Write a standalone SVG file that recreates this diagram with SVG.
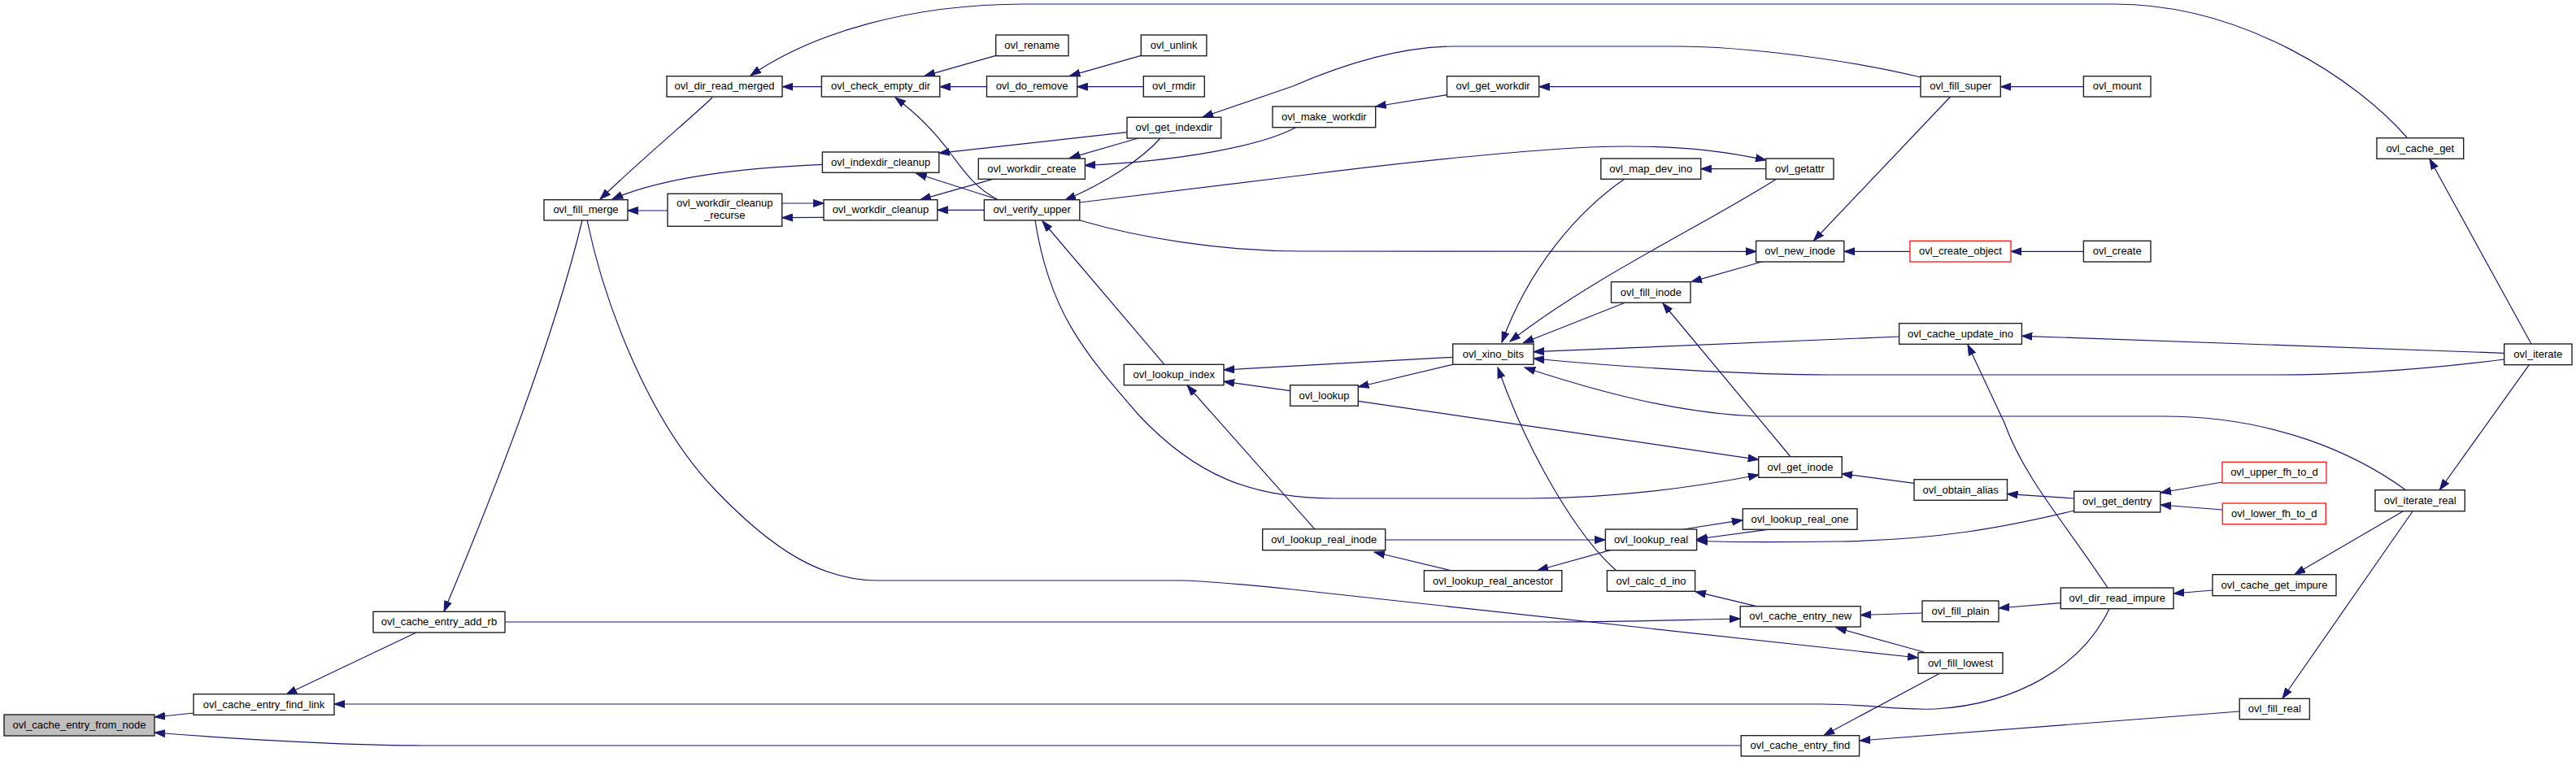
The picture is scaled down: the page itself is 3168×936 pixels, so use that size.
<svg xmlns="http://www.w3.org/2000/svg" width="3168" height="936" viewBox="0 0 3168 936">
<defs>
<style>
.n rect{fill:#fff;stroke:#222;stroke-width:1.4}
.n.r rect{stroke:#f22}
.n.root rect{fill:#bfbfbf}
.n text{font-family:"Liberation Sans",Arial,Helvetica,sans-serif;font-size:13px;text-anchor:middle;fill:#000}
.e path{fill:none;stroke:#191970;stroke-width:1.2;marker-end:url(#a)}
</style>
<marker id="a" markerUnits="userSpaceOnUse" markerWidth="14" markerHeight="10" refX="13" refY="5" orient="auto" viewBox="0 0 14 10">
<path d="M0,0.5 L13,5 L0,9.5 z" fill="#191970" stroke="#191970" stroke-width="1"/>
</marker>
</defs>
<rect width="3168" height="936" fill="#fff"/>
<g id="edges" class="e">
<path d="M238,877 L190,882"/>
<path d="M2141,917 L520,917 C440,917 300,910 190,901"/>
<path d="M512,778 L352,854"/>
<path d="M716,271 C680,420 610,600 546,752"/>
<path d="M2594,749 C2560,820 2480,866 2380,872 C2330,874 2300,866 2240,866 L411,866"/>
<path d="M722,271 C745,380 800,520 880,603 C950,676 1010,714 1080,714 L1453,714 C1480,714 1530,719 1590,725 L2359,809"/>
<path d="M621,765 L1900,765 C2000,765 2080,762 2140,761"/>
<path d="M2364,754 L2288,756.5"/>
<path d="M2366,802 L2258,772"/>
<path d="M2160,745.7 L2085,727.7"/>
<path d="M2386,828 L2243,904.5"/>
<path d="M2754,875 L2287,911"/>
<path d="M2967,629 L2807,859"/>
<path d="M2955,629 L2822,706.5"/>
<path d="M2721,726 L2673,730"/>
<path d="M2534,741.7 L2458,748"/>
<path d="M2733,593 L2657,606"/>
<path d="M2733,627 L2657,621"/>
<path d="M2551,613 L2468.5,607.7"/>
<path d="M2551,628 C2460,650 2380,664 2260,666 C2180,667 2120,667 2087,665"/>
<path d="M2354,594.3 L2265,582.7"/>
<path d="M2070,651 L2143,639.7"/>
<path d="M2174,651.3 L2087,663"/>
<path d="M1704,664 L1974.4,664"/>
<path d="M1784,701.7 L1690,679"/>
<path d="M1980.5,676.7 L1891,701.5"/>
<path d="M1988,702 C1940,660 1880,560 1842,452"/>
<path d="M1616.7,650.7 L1460,474"/>
<path d="M1786.7,439.3 L1505,455"/>
<path d="M1586.7,480.7 L1505,469.3"/>
<path d="M1786.7,448.3 L1670.3,476"/>
<path d="M1670.3,493.3 L2162.7,565.3"/>
<path d="M1273,271 C1290,380 1330,430 1400,510 C1470,585 1540,613 1640,613 L1880,613 C1980,613 2080,600 2163,584"/>
<path d="M1432,448.3 L1282,272"/>
<path d="M1228,246 C1200,232 1185,210 1170,190 C1150,162 1125,138 1101,120"/>
<path d="M1226,245 L1126.7,213.3"/>
<path d="M1210.4,258.3 L1152.8,258.3"/>
<path d="M1221,220.3 L1131.8,245.7"/>
<path d="M1013,267.3 L961.7,267.7"/>
<path d="M961.7,250 L1013.3,250"/>
<path d="M821,259 L771.7,259"/>
<path d="M1011.7,202.3 C900,207 810,220 753,245"/>
<path d="M876,120 C850,145 790,195 738,245"/>
<path d="M1010.4,106.7 L962.4,106.7"/>
<path d="M2960,169 C2900,100 2760,5 2600,5 L1260,5 C1120,5 1000,40 923,93"/>
<path d="M1224.7,68.3 L1137,93.3"/>
<path d="M1213.5,106.7 L1155.8,106.7"/>
<path d="M1403.3,68.3 L1315.5,93.3"/>
<path d="M1406.3,106.7 L1324.7,106.7"/>
<path d="M1386,162.7 L1154.8,188.3"/>
<path d="M1399.7,170 L1315.5,194.3"/>
<path d="M1427,170 C1405,195 1360,225 1310,246"/>
<path d="M2362,95 C2280,75 2150,57 2060,57 L1790,57 C1720,57 1650,80 1590,106 L1479,144"/>
<path d="M1593,157 C1550,180 1450,198 1334,203.5"/>
<path d="M1779.5,116.7 L1691.7,131"/>
<path d="M2362,106.7 L1892.7,106.7"/>
<path d="M2562.4,106.7 L2460.3,106.7"/>
<path d="M2398.6,119 L2230.5,296"/>
<path d="M1328,249 L1590,217 C1700,203 1900,180 2000,180 C2080,180 2130,188 2172,197"/>
<path d="M2171.8,207.7 L2091.7,207.7"/>
<path d="M1998,220 C1940,260 1880,330 1847,421"/>
<path d="M2185,220 C2090,280 1960,340 1857,420"/>
<path d="M1997.3,372.7 L1873.3,421.7"/>
<path d="M2166.7,322 L2080,346.7"/>
<path d="M1328,271 C1400,292 1500,309 1600,309 L2160,309.3"/>
<path d="M2349,309.3 L2268,309.3"/>
<path d="M2562.4,309.3 L2473,309.3"/>
<path d="M2201.4,561 L2045,373"/>
<path d="M2335.6,414 L1886,432.7"/>
<path d="M3080,442 C3000,452 2900,461 2800,461 L2250,461 C2150,461 2000,452 1886,441"/>
<path d="M3079.7,434.3 L2486.4,413.3"/>
<path d="M3113,423 L2988,195.5"/>
<path d="M3110.4,448.7 L3000.4,602.5"/>
<path d="M2959,603 C2900,560 2800,512 2660,512 L2160,512 C2060,508 1960,480 1875,452"/>
<path d="M2592,723 C2545,650 2490,590 2465,520 L2420,424"/>
</g>
<g id="n_from_node" class="n root"><rect x="5" y="879" width="185" height="26"/><text x="97.5" y="896">ovl_cache_entry_from_node</text></g>
<g id="n_find_link" class="n"><rect x="238" y="853.7" width="173" height="25.6"/><text x="324.5" y="870.5">ovl_cache_entry_find_link</text></g>
<g id="n_add_rb" class="n"><rect x="459" y="752.3" width="162" height="25.7"/><text x="540" y="769.2">ovl_cache_entry_add_rb</text></g>
<g id="n_fill_merge" class="n"><rect x="669" y="245.7" width="103" height="25.3"/><text x="720.5" y="262.3">ovl_fill_merge</text></g>
<g id="n_dir_read_merged" class="n"><rect x="820" y="93.7" width="142" height="25.3"/><text x="891" y="110.3">ovl_dir_read_merged</text></g>
<g id="n_check_empty_dir" class="n"><rect x="1010.4" y="93.7" width="145.4" height="25.3"/><text x="1083.1" y="110.3">ovl_check_empty_dir</text></g>
<g id="n_rename" class="n"><rect x="1224.7" y="43" width="89.3" height="25.7"/><text x="1269.3" y="59.9">ovl_rename</text></g>
<g id="n_do_remove" class="n"><rect x="1213.5" y="93.7" width="111.2" height="25.3"/><text x="1269.1" y="110.3">ovl_do_remove</text></g>
<g id="n_unlink" class="n"><rect x="1403.3" y="43" width="80.6" height="25.7"/><text x="1443.6" y="59.9">ovl_unlink</text></g>
<g id="n_rmdir" class="n"><rect x="1406.3" y="93.7" width="75" height="25.3"/><text x="1443.8" y="110.3">ovl_rmdir</text></g>
<g id="n_get_indexdir" class="n"><rect x="1386" y="144.3" width="115.7" height="25.7"/><text x="1443.8" y="161.2">ovl_get_indexdir</text></g>
<g id="n_indexdir_cleanup" class="n"><rect x="1011.4" y="187" width="143.4" height="25.3"/><text x="1083.1" y="203.7">ovl_indexdir_cleanup</text></g>
<g id="n_workdir_create" class="n"><rect x="1203.3" y="195" width="131.1" height="25.3"/><text x="1268.9" y="211.7">ovl_workdir_create</text></g>
<g id="n_workdir_cleanup_recurse" class="n"><rect x="821" y="238.3" width="140.7" height="40"/><text x="891.3" y="254.3">ovl_workdir_cleanup</text><text x="891.3" y="269">_recurse</text></g>
<g id="n_workdir_cleanup" class="n"><rect x="1013" y="245.7" width="139.8" height="25.3"/><text x="1082.9" y="262.3">ovl_workdir_cleanup</text></g>
<g id="n_verify_upper" class="n"><rect x="1210.4" y="245.7" width="117.4" height="25.3"/><text x="1269.1" y="262.3">ovl_verify_upper</text></g>
<g id="n_lookup_index" class="n"><rect x="1382.3" y="448.3" width="122.7" height="25.4"/><text x="1443.7" y="465">ovl_lookup_index</text></g>
<g id="n_make_workdir" class="n"><rect x="1565" y="131" width="126.7" height="25.7"/><text x="1628.3" y="147.9">ovl_make_workdir</text></g>
<g id="n_get_workdir" class="n"><rect x="1779.5" y="93.7" width="113.2" height="25.3"/><text x="1836.1" y="110.3">ovl_get_workdir</text></g>
<g id="n_fill_super" class="n"><rect x="2362" y="93.7" width="98.3" height="25.3"/><text x="2411.1" y="110.3">ovl_fill_super</text></g>
<g id="n_mount" class="n"><rect x="2562.4" y="93.7" width="82.6" height="25.3"/><text x="2603.7" y="110.3">ovl_mount</text></g>
<g id="n_map_dev_ino" class="n"><rect x="1968.8" y="195" width="122.9" height="25.3"/><text x="2030.3" y="211.7">ovl_map_dev_ino</text></g>
<g id="n_getattr" class="n"><rect x="2171.8" y="195" width="83.2" height="25.3"/><text x="2213.4" y="211.7">ovl_getattr</text></g>
<g id="n_new_inode" class="n"><rect x="2159.6" y="296.3" width="108.2" height="25.7"/><text x="2213.7" y="313.2">ovl_new_inode</text></g>
<g id="n_create_object" class="n r"><rect x="2348.9" y="296.3" width="124.1" height="25.7"/><text x="2411" y="313.2">ovl_create_object</text></g>
<g id="n_create" class="n"><rect x="2562.4" y="296.3" width="82.6" height="25.7"/><text x="2603.7" y="313.2">ovl_create</text></g>
<g id="n_fill_inode" class="n"><rect x="1981.5" y="346.7" width="97.5" height="25.6"/><text x="2030.3" y="363.5">ovl_fill_inode</text></g>
<g id="n_xino_bits" class="n"><rect x="1786.7" y="423" width="99.3" height="25.3"/><text x="1836.3" y="439.7">ovl_xino_bits</text></g>
<g id="n_cache_update_ino" class="n"><rect x="2335.6" y="397.7" width="150.8" height="25.6"/><text x="2411" y="414.5">ovl_cache_update_ino</text></g>
<g id="n_cache_get" class="n"><rect x="2923" y="169.7" width="106.7" height="25.6"/><text x="2976.3" y="186.5">ovl_cache_get</text></g>
<g id="n_iterate" class="n"><rect x="3079.7" y="423" width="83.3" height="25.7"/><text x="3121.3" y="439.9">ovl_iterate</text></g>
<g id="n_lookup" class="n"><rect x="1586.7" y="473.7" width="83.6" height="25.6"/><text x="1628.5" y="490.5">ovl_lookup</text></g>
<g id="n_get_inode" class="n"><rect x="2162.7" y="561.7" width="102.5" height="25.6"/><text x="2213.9" y="578.5">ovl_get_inode</text></g>
<g id="n_obtain_alias" class="n"><rect x="2354" y="589.7" width="114.5" height="25.6"/><text x="2411.2" y="606.5">ovl_obtain_alias</text></g>
<g id="n_lookup_real_one" class="n"><rect x="2143.3" y="625.7" width="140.7" height="25.6"/><text x="2213.6" y="642.5">ovl_lookup_real_one</text></g>
<g id="n_lookup_real" class="n"><rect x="1974.4" y="651" width="112.2" height="25.7"/><text x="2030.5" y="667.9">ovl_lookup_real</text></g>
<g id="n_lookup_real_inode" class="n"><rect x="1552.7" y="650.7" width="151" height="26"/><text x="1628.2" y="667.7">ovl_lookup_real_inode</text></g>
<g id="n_lookup_real_ancestor" class="n"><rect x="1751.4" y="701.7" width="169.4" height="25.6"/><text x="1836.1" y="718.5">ovl_lookup_real_ancestor</text></g>
<g id="n_calc_d_ino" class="n"><rect x="1976.4" y="701.7" width="108.2" height="25.6"/><text x="2030.5" y="718.5">ovl_calc_d_ino</text></g>
<g id="n_cache_entry_new" class="n"><rect x="2140.2" y="745.7" width="148" height="25.3"/><text x="2214.2" y="762.4">ovl_cache_entry_new</text></g>
<g id="n_fill_lowest" class="n"><rect x="2359" y="802.7" width="104" height="25.6"/><text x="2411" y="819.5">ovl_fill_lowest</text></g>
<g id="n_cache_entry_find" class="n"><rect x="2141.2" y="904.7" width="145.4" height="25.3"/><text x="2213.9" y="921.4">ovl_cache_entry_find</text></g>
<g id="n_fill_plain" class="n"><rect x="2364" y="739" width="94" height="25.7"/><text x="2411" y="755.9">ovl_fill_plain</text></g>
<g id="n_get_dentry" class="n"><rect x="2550.7" y="604.3" width="106.1" height="25.7"/><text x="2603.7" y="621.2">ovl_get_dentry</text></g>
<g id="n_upper_fh_to_d" class="n r"><rect x="2733" y="568.3" width="128" height="25.7"/><text x="2797" y="585.2">ovl_upper_fh_to_d</text></g>
<g id="n_lower_fh_to_d" class="n r"><rect x="2733.3" y="619" width="127" height="25.7"/><text x="2796.8" y="635.9">ovl_lower_fh_to_d</text></g>
<g id="n_iterate_real" class="n"><rect x="2921" y="602.7" width="110.3" height="26"/><text x="2976.2" y="619.7">ovl_iterate_real</text></g>
<g id="n_cache_get_impure" class="n"><rect x="2721" y="706.7" width="152" height="26"/><text x="2797" y="723.7">ovl_cache_get_impure</text></g>
<g id="n_dir_read_impure" class="n"><rect x="2534.3" y="723" width="138.7" height="25.7"/><text x="2603.7" y="739.9">ovl_dir_read_impure</text></g>
<g id="n_fill_real" class="n"><rect x="2754.2" y="859.3" width="86.2" height="25.4"/><text x="2797.3" y="876">ovl_fill_real</text></g>
</svg>
